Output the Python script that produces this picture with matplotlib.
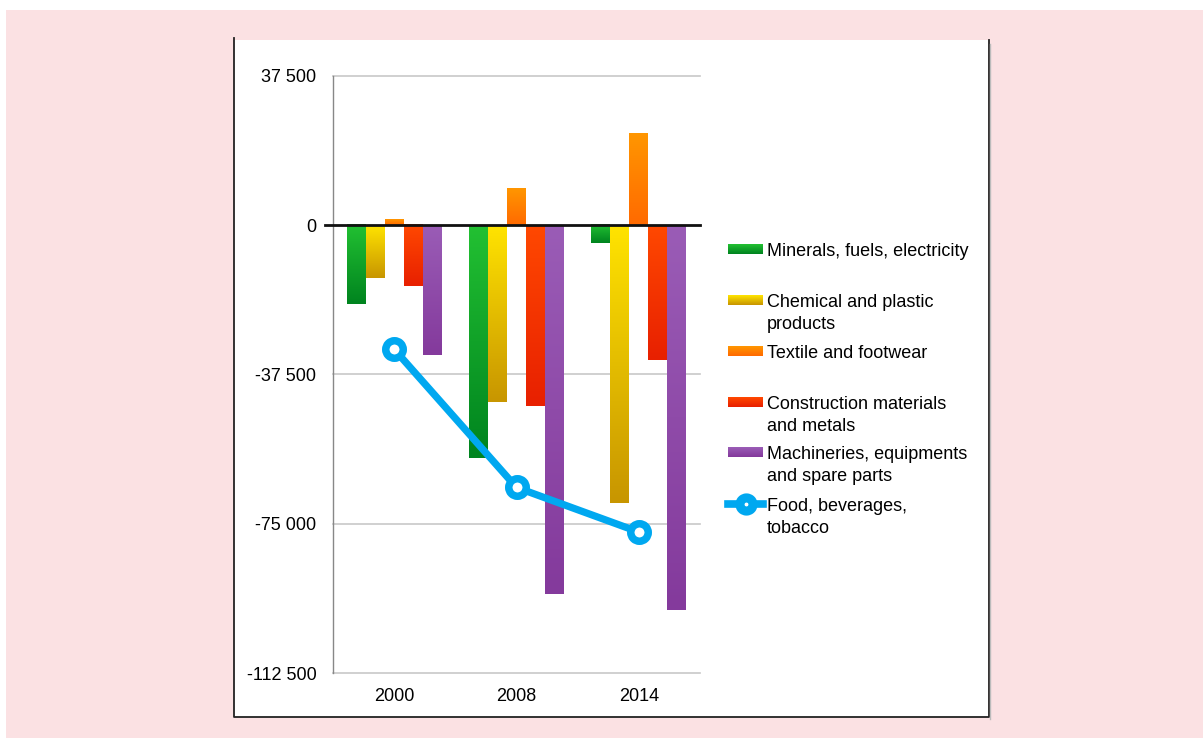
import numpy as np
import matplotlib
matplotlib.use("Agg")
import matplotlib.pyplot as plt
from matplotlib.colors import LinearSegmentedColormap
from matplotlib.patches import Rectangle

plt.rcParams["font.family"] = ["Liberation Sans", "DejaVu Sans"]

# Data
years = ["2000", "2008", "2014"]
minerals = [-19900, -58400, -4600]
chemical = [-13300, -44400, -69700]
textile = [1500, 9200, 23000]
construction = [-15400, -45400, -33900]
machinery = [-32600, -92600, -96600]
food = [-31200, -65900, -77100]

labels = ["Minerals, fuels, electricity", "Chemical and plastic\nproducts",
          "Textile and footwear", "Construction materials\nand metals",
          "Machineries, equipments\nand spare parts", "Food, beverages,\ntobacco"]
yticks = [37500, 0, -37500, -75000, -112500]
ytick_labels = ["37 500", "0", "-37 500", "-75 000", "-112 500"]

# gradient colours: (top, bottom)
grad = [("#22c032", "#00841f"), ("#ffe300", "#c89600"), ("#ff9600", "#ff6a00"),
        ("#ff4800", "#e82000"), ("#9a5cb6", "#843a9c")]
line_color = "#00a8f0"

W, H = 1203, 738
fig = plt.figure(figsize=(W / 100, H / 100), dpi=100)
fig.patch.set_facecolor("white")

# background layer in pixel coords
bg = fig.add_axes([0, 0, 1, 1], zorder=-1)
bg.set_xlim(0, W)
bg.set_ylim(H, 0)
bg.axis("off")
bg.add_patch(Rectangle((6, 10), W - 6, H - 10, facecolor="#fbe1e3", edgecolor="none"))
bg.add_patch(Rectangle((234, 40), 754, 677, facecolor="white", edgecolor="none"))
bg.plot([988.5, 988.5, 234, 234], [40, 717, 717, 38], color="#222222", lw=1.3)
bg.plot([990, 990], [44, 719], color="#bbbbbb", lw=1.0)

# main axes
left, right, top, bottom = 333, 700, 75.7, 673
ax = fig.add_axes([left / W, (H - bottom) / H, (right - left) / W, (bottom - top) / H])
ax.set_facecolor("none")

x = np.arange(len(years))
width = 0.155
series = [minerals, chemical, textile, construction, machinery]
for i, vals in enumerate(series):
    offs = (i - 2) * width
    bars = ax.bar(x + offs, vals, width, color=grad[i][0], zorder=2)
    cmap = LinearSegmentedColormap.from_list("g%d" % i, [grad[i][1], grad[i][0]])
    for b in bars:
        x0, y0 = b.get_x(), b.get_y()
        w, h = b.get_width(), b.get_height()
        ylo, yhi = min(y0, y0 + h), max(y0, y0 + h)
        img = np.linspace(1, 0, 64).reshape(-1, 1)
        ax.imshow(img, cmap=cmap, extent=[x0, x0 + w, ylo, yhi], aspect="auto",
                  origin="upper", zorder=2.5, interpolation="bilinear")

ax.plot(x, food, color=line_color, lw=5.2, marker="o", ms=12.6, mew=5.4,
        mfc="white", mec=line_color, zorder=4, solid_capstyle="round")

ax.set_xlim(-0.5, 2.5)
ax.set_ylim(-112500, 37500)
ax.set_yticks(yticks)
ax.set_yticklabels(ytick_labels, fontsize=13)
ax.set_xticks(x)
ax.set_xticklabels(years, fontsize=13)
ax.tick_params(axis="both", length=0)
ax.tick_params(axis="y", pad=12)
ax.tick_params(axis="x", pad=11)
for yv in yticks:
    if yv != 0:
        ax.axhline(yv, color="#c8c8c8", lw=1.2, zorder=1, clip_on=False)
ax.plot([-0.565, 2.5], [0, 0], color="#111111", lw=2.0, zorder=3, clip_on=False)
for s in ["top", "right", "bottom"]:
    ax.spines[s].set_visible(False)
ax.spines["left"].set_color("#888888")
ax.spines["left"].set_linewidth(1.0)

# legend, drawn by hand in pixel coords
leg_y = [249, 300, 351, 402, 452, 504]
for i, (lab, yy) in enumerate(zip(labels, leg_y)):
    if i < 5:
        cmap = LinearSegmentedColormap.from_list("l%d" % i, [grad[i][1], grad[i][0]])
        img = np.linspace(1, 0, 16).reshape(-1, 1)
        bg.imshow(img, cmap=cmap, extent=[728, 763, yy + 5, yy - 5], aspect="auto",
                  origin="upper", interpolation="bilinear", zorder=3)
    else:
        bg.plot([728, 763], [yy, yy], color=line_color, lw=5.5, zorder=3)
        bg.plot([745.5], [yy], marker="o", ms=9.5, mew=6.5, mfc="white", mec=line_color, zorder=4)
    bg.text(767, yy - 6, lab, fontsize=13, va="top", ha="left", linespacing=1.38)

bg.set_xlim(0, W)
bg.set_ylim(H, 0)

fig.savefig("out.png", dpi=100)
